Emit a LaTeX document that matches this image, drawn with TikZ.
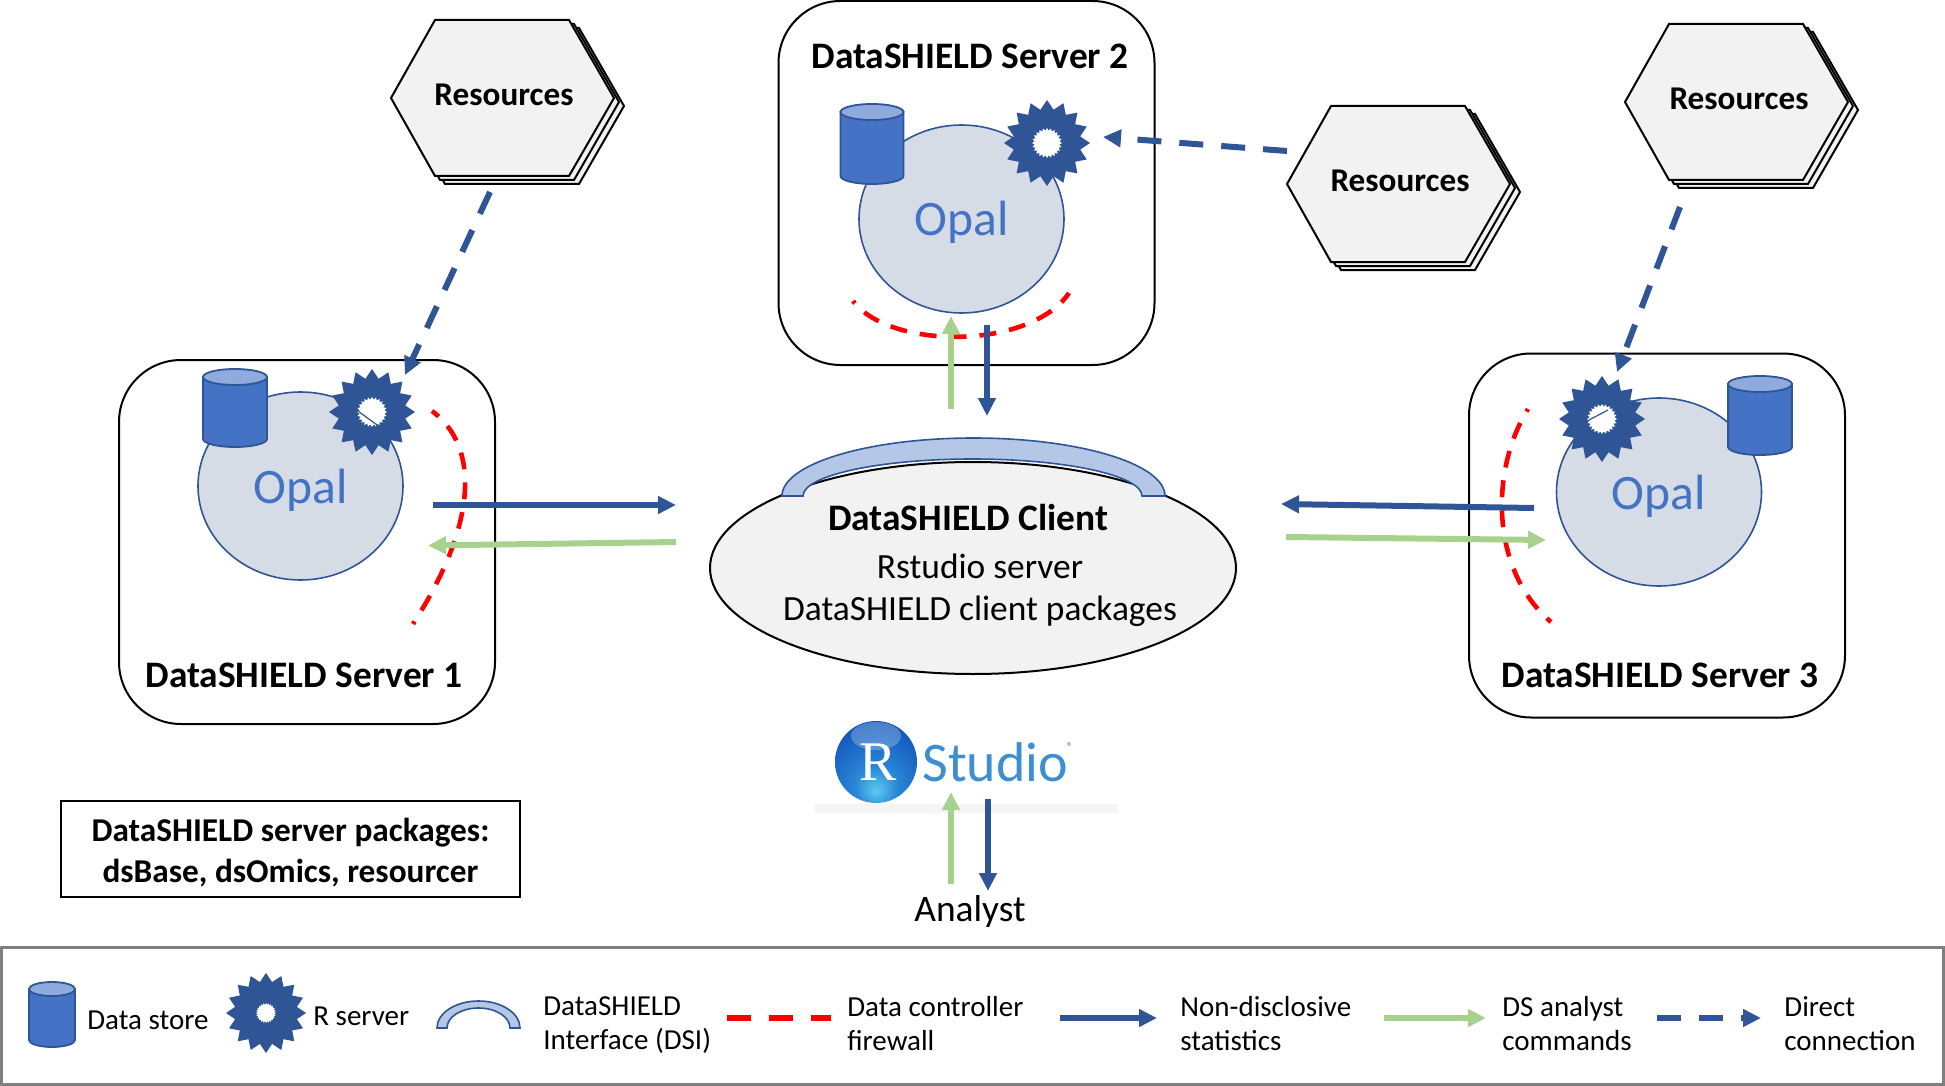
\documentclass[tikz,border=0pt]{standalone}
\usepackage{fontspec}
\setmainfont{Carlito}
\newfontfamily\logoserif{Liberation Serif}
\usetikzlibrary{arrows.meta,shapes.geometric}
\definecolor{dkblue}{HTML}{2F5597}
\definecolor{medblue}{HTML}{4472C4}
\definecolor{ltblue}{HTML}{8FAADC}
\definecolor{archblue}{HTML}{B4C7E7}
\definecolor{opalfill}{HTML}{D6DCE5}
\definecolor{panel}{HTML}{F2F2F2}
\definecolor{grn}{HTML}{A9D18E}
\definecolor{legendgray}{HTML}{7F7F7F}
\definecolor{studioblue}{HTML}{3D8FD1}
\definecolor{ballA}{HTML}{5CCBEE}
\definecolor{ballB}{HTML}{2A86D6}
\definecolor{ballC}{HTML}{0B48B4}
\definecolor{ballD}{HTML}{08389C}
\pgfdeclareradialshading{rball}{\pgfpoint{0bp}{-18bp}}{color(0bp)=(ballA);color(13bp)=(ballB);color(42bp)=(ballC);color(68bp)=(ballD);color(100bp)=(ballD)}
\newcommand\opaltext{\raisebox{-8.5pt}[0pt][0pt]{Opal}}
\tikzset{
  serverbox/.style={draw=black,line width=1pt,rounded corners=31pt,minimum width=188pt,minimum height=182pt,inner sep=0pt},
  opalnode/.style={ellipse,draw=dkblue,line width=.8pt,fill=opalfill,minimum width=102.5pt,minimum height=94pt,inner sep=0pt,text=medblue,font=\fontsize{24.8}{28}\selectfont},
  hexshape/.style={draw=black,line width=1pt,fill=panel},
  burststar/.style={star,star points=16,star point ratio=1.27,fill=dkblue,inner sep=0pt,minimum size=43pt},
  holestar/.style={star,star points=24,star point ratio=1.2,fill=white,inner sep=0pt,minimum size=15pt},
  fw/.style={draw=red,line width=2.3pt,dash pattern=on 8.5pt off 6.5pt,dash phase=7pt},
  blueline/.style={draw=dkblue,line width=3pt,-{Triangle[length=9pt,width=8.5pt]}},
  greenline/.style={draw=grn,line width=3pt,-{Triangle[length=9pt,width=8.5pt]}},
  directline/.style={draw=dkblue,line width=3pt,dash pattern=on 12pt off 9pt,-{Triangle[length=9pt,width=8.5pt]}},
  cyl/.style={draw=dkblue,line width=.9pt,fill=medblue},
  cyltop/.style={draw=dkblue,line width=.9pt,fill=ltblue},
  archshape/.style={draw=dkblue,line width=.8pt,fill=archblue},
  boldtext/.style={inner sep=0pt,font=\fontsize{18.7}{22}\bfseries\selectfont},
  plaintext/.style={inner sep=0pt,font=\fontsize{17.7}{21}\selectfont},
  legendtext/.style={inner sep=0pt,anchor=west,align=left,font=\fontsize{14.5}{17}\selectfont},
}
\newcommand\dbcyl[5]{% centre x, top y, rx, height, ry
  \begin{scope}[shift={(#1,#2)}]
    \path[cyl] (-#3,#5) -- (-#3,#4-#5) arc[start angle=180,end angle=0,x radius=#3,y radius=#5] -- (#3,#5) -- cycle;
    \path[cyltop] (0,#5) circle[x radius=#3,y radius=#5];
  \end{scope}}
\newcommand\reshex[4]{% name, dx, dy, text position
  \begin{scope}[shift={(#2,#3)}]
    \foreach \o in {10,5,0}{
      \path[hexshape] (1287+\o,184+.8*\o) -- (1331+\o,106+.8*\o) -- (1465+\o,106+.8*\o) -- (1510+\o,184+.8*\o) -- (1465+\o,262+.8*\o) -- (1331+\o,262+.8*\o) -- cycle;
    }
  \end{scope}
  \node[boldtext,font=\fontsize{16.6}{20}\bfseries\selectfont] (#1) at #4 {Resources};}
\begin{document}
\begin{tikzpicture}[x=.5pt,y=-.5pt]
\useasboundingbox (0,0) rectangle (1945,1086);

% server boxes
\node[serverbox] (srv1) at (307,542) {};
\node[serverbox] (srv2) at (966.5,183) {};
\node[serverbox] (srv3) at (1657,535.5) {};
\node[boldtext] (srv1t) at (304,675) {DataSHIELD Server 1};
\node[boldtext] (srv2t) at (970,56) {DataSHIELD Server 2};
\node[boldtext] (srv3t) at (1660,675) {DataSHIELD Server 3};

% opal
\node[opalnode] (opal1) at (300.5,486) {\opaltext};
\node[opalnode] (opal2) at (961.5,219) {\opaltext};
\node[opalnode] (opal3) at (1659,492) {\opaltext};

% data stores
\dbcyl{235}{369}{32}{78}{8}
\dbcyl{872}{104}{31.5}{80}{8}
\dbcyl{1760}{376}{32}{79}{8}

% R servers
\node[burststar] (rs1) at (372,412) {};
\node[holestar] (rh1) at (372,412) {};
\draw[dkblue,line width=.6pt] (358,411) -- (377,425);
\node[burststar] (rs2) at (1047,143) {};
\node[holestar] (rh2) at (1047,143) {};
\node[burststar] (rs3) at (1602,419) {};
\node[holestar] (rh3) at (1602,419) {};
\draw[dkblue,line width=.6pt] (1589,420) -- (1608,410);

% firewalls
\path[fw] (413,624) .. controls (480,520) and (478,445) .. (432,411);
\path[fw] (853,301) .. controls (890,350) and (1030,350) .. (1069,293);
\path[fw] (1528,409) .. controls (1490,470) and (1490,570) .. (1551,622);

% resources
\reshex{resL}{-896}{-86}{(504,95)}
\reshex{resM}{0}{0}{(1400,181)}
\reshex{resR}{338}{-82}{(1739,99)}

% client
\node[ellipse,draw=black,line width=1pt,fill=panel,minimum width=263pt,minimum height=106pt,inner sep=0pt] (client) at (973,568) {};
\path[archshape] (782,496) arc[start angle=180,end angle=360,x radius=191.5,y radius=58] -- (1142,496) arc[start angle=360,end angle=180,x radius=169.5,y radius=37] -- cycle;
\node[boldtext] (clientT) at (968,518) {DataSHIELD Client};
\node[plaintext] (clientA) at (980,566) {Rstudio server};
\node[plaintext] (clientB) at (980,611) {DataSHIELD client packages};

% packages box
\node[draw=black,line width=1pt,minimum width=229.5pt,minimum height=48pt,inner sep=0pt] (pkgs) at (290.5,849) {};
\node[inner sep=0pt,align=center,font=\fontsize{16.65}{20.5}\bfseries\selectfont] (pkgsT) at (290.5,853) {DataSHIELD server packages:\\dsBase, dsOmics, resourcer};

% RStudio logo
\fill[gray!8] (815,804) rectangle (1118,813);
\node[circle,minimum size=41pt,inner sep=0pt,shading=rball] (ball) at (876,762) {};
\fill[white,opacity=.25] (876,736) circle[x radius=25,y radius=14];
\node[inner sep=0pt,text=white,font=\logoserif\fontsize{28}{30}\selectfont] (ballR) at (878,762) {R};
\node[inner sep=0pt,anchor=west,text=studioblue,font=\fontsize{28}{32}\selectfont] (studio) at (922,762) {Studio};
\node[inner sep=0pt,text=studioblue!50!gray,font=\fontsize{6.5}{7}\selectfont] (reg) at (1070,747) {®};
\node[inner sep=0pt,font=\fontsize{18.7}{22}\selectfont] (analyst) at (970,912) {Analyst};

% named ends of the connectors
\coordinate (a1s) at (433,505); \coordinate (a1e) at (676,505);
\coordinate (g1s) at (676,542); \coordinate (g1e) at (428,545.5);
\coordinate (g2s) at (951,409); \coordinate (g2e) at (951,316);
\coordinate (a2s) at (987,325); \coordinate (a2e) at (987,416);
\coordinate (a3s) at (1534,508); \coordinate (a3e) at (1281,504);
\coordinate (g3s) at (1286,537); \coordinate (g3e) at (1546,540);
\coordinate (g4s) at (951,884); \coordinate (g4e) at (951,792);
\coordinate (a4s) at (988,799); \coordinate (a4e) at (988,891);
\coordinate (d1s) at (490,192); \coordinate (d1e) at (405,375);
\coordinate (d2s) at (1287,151); \coordinate (d2e) at (1103,137);
\coordinate (d3s) at (1680,207); \coordinate (d3e) at (1617,372);

\draw[blueline] (a1s) -- (a1e);
\draw[greenline] (g1s) -- (g1e);
\draw[greenline] (g2s) -- (g2e);
\draw[blueline] (a2s) -- (a2e);
\draw[blueline] (a3s) -- (a3e);
\draw[greenline] (g3s) -- (g3e);
\draw[greenline] (g4s) -- (g4e);
\draw[blueline] (a4s) -- (a4e);
\draw[directline] (d1s) -- (d1e);
\draw[directline] (d2s) -- (d2e);
\draw[directline] (d3s) -- (d3e);

% legend
\node[draw=legendgray,line width=1.2pt,minimum width=971pt,minimum height=68.5pt,inner sep=0pt] (legend) at (972.5,1016) {};
\dbcyl{52}{982}{23}{65}{7}
\node[legendtext] (ltA) at (87,1020) {Data store};
\node[burststar,minimum size=40pt] (lstar) at (266,1013) {};
\node[holestar,minimum size=10pt] (lhole) at (266,1013) {};
\node[legendtext] (ltB) at (313,1016) {R server};
\path[archshape] (437,1028) arc[start angle=180,end angle=360,x radius=41.5,y radius=27] -- (510,1028) arc[start angle=360,end angle=180,x radius=31.5,y radius=20] -- cycle;
\node[legendtext] (ltC) at (543,1025) {DataSHIELD\\Interface (DSI)};
\coordinate (lfs) at (727,1018); \coordinate (lfe) at (831,1018);
\draw[red,line width=3pt,dash pattern=on 12pt off 9pt] (lfs) -- (lfe);
\node[legendtext] (ltD) at (847,1023.5) {Data controller\\firewall};
\coordinate (lbs) at (1060,1018); \coordinate (lbe) at (1157,1018);
\draw[blueline] (lbs) -- (lbe);
\node[legendtext] (ltE) at (1180,1023.5) {Non-disclosive\\statistics};
\coordinate (lgs) at (1384,1018); \coordinate (lge) at (1486,1018);
\draw[greenline] (lgs) -- (lge);
\node[legendtext] (ltF) at (1502,1023.5) {DS analyst\\commands};
\coordinate (lds) at (1657,1018); \coordinate (lde) at (1761,1018);
\draw[directline] (lds) -- (lde);
\node[legendtext] (ltG) at (1784,1023.5) {Direct\\connection};
\end{tikzpicture}
\end{document}
